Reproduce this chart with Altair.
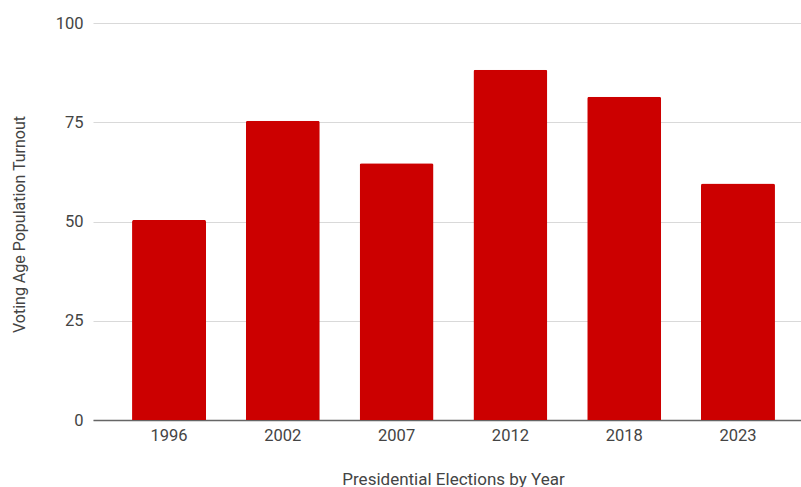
import altair as alt
import pandas as pd

# Election years and voting-age population turnout (%)
years = ["1996", "2002", "2007", "2012", "2018", "2023"]
turnout = [50.4, 75.4, 64.7, 88.2, 81.4, 59.6]

# y-axis tick values
y_ticks = [0, 25, 50, 75, 100]

df = pd.DataFrame({"year": years, "turnout": turnout})

FONT = "Roboto"
TEXT = "#444444"

chart = (
    alt.Chart(df)
    .mark_bar(color="#cc0000", cornerRadiusTopLeft=2, cornerRadiusTopRight=2)
    .encode(
        x=alt.X(
            "year:N",
            sort=years,
            title="Presidential Elections by Year",
            scale=alt.Scale(paddingInner=0.35, paddingOuter=0.286, align=0.6),
            axis=alt.Axis(
                labelAngle=0,
                ticks=False,
                grid=False,
                labelPadding=7,
                labelFont=FONT,
                labelFontSize=16.5,
                labelColor=TEXT,
                domainColor="#666666",
                domainWidth=1.5,
                titleFont=FONT,
                titleFontSize=17,
                titleFontWeight="normal",
                titleColor=TEXT,
                titleX=360,
                titleY=64,
                titleBaseline="alphabetic",
            ),
        ),
        y=alt.Y(
            "turnout:Q",
            title="Voting Age Population Turnout",
            scale=alt.Scale(domain=[0, 100], nice=False),
            axis=alt.Axis(
                values=y_ticks,
                ticks=False,
                domain=False,
                labelPadding=10,
                labelFont=FONT,
                labelFontSize=16.5,
                labelColor=TEXT,
                gridColor="#d9d9d9",
                gridWidth=1.2,
                titleFont=FONT,
                titleFontSize=16,
                titleFontWeight="normal",
                titleColor=TEXT,
                titleAngle=270,
                titleX=-74,
                titleY=201,
                titleAlign="center",
                titleBaseline="middle",
            ),
        ),
    )
    .properties(
        width=708,
        height=397,
        padding={"left": 93, "top": 23, "right": 0, "bottom": 67},
        autosize=alt.AutoSizeParams(type="none"),
        background="white",
    )
    .configure_view(stroke=None)
)

chart.save("out.html", embed_options={"renderer": "svg", "actions": False})
